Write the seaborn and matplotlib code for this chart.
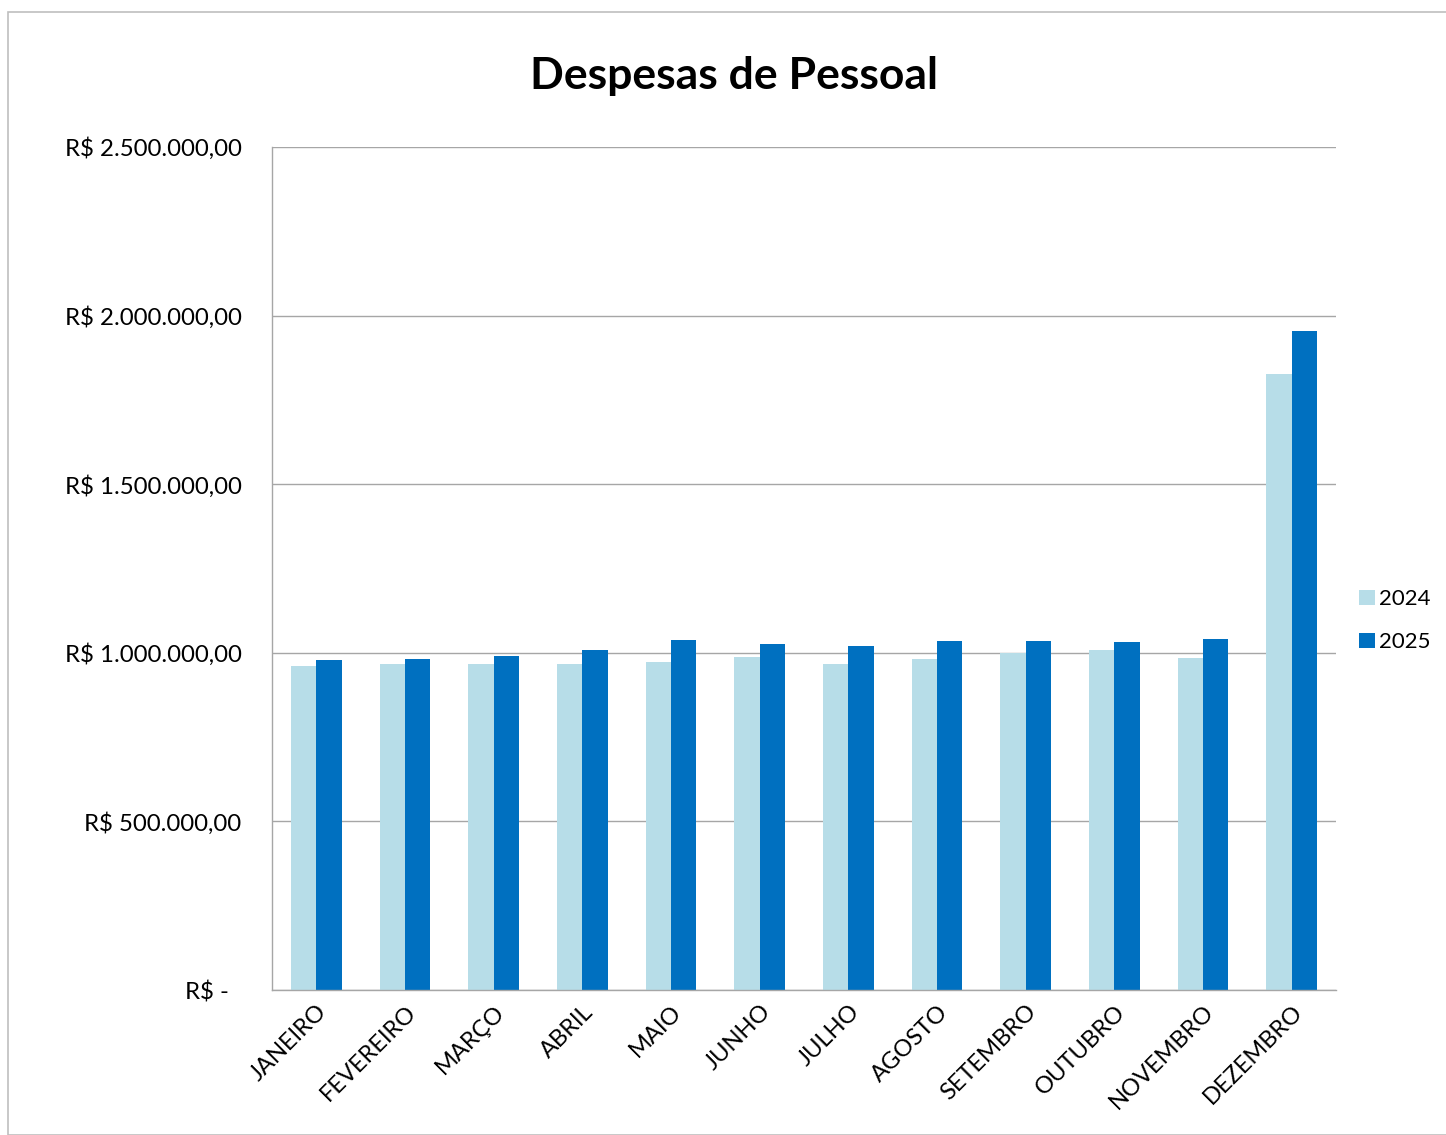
import matplotlib
matplotlib.use("Agg")
import matplotlib.pyplot as plt
import matplotlib.ticker as mticker
from matplotlib.patches import Rectangle
import seaborn as sns
import pandas as pd

months = ["JANEIRO", "FEVEREIRO", "MARÇO", "ABRIL", "MAIO", "JUNHO", "JULHO",
          "AGOSTO", "SETEMBRO", "OUTUBRO", "NOVEMBRO", "DEZEMBRO"]
vals_2024 = [961000, 967000, 967000, 968000, 974000, 988000, 967000,
             982000, 999000, 1007000, 985000, 1827000]
vals_2025 = [979000, 981000, 990000, 1007000, 1038000, 1025000, 1020000,
             1035000, 1034000, 1031000, 1040000, 1954000]
series = ["2024", "2025"]
colors = ["#B7DDE8", "#0070C0"]
yticks = [0, 500000, 1000000, 1500000, 2000000, 2500000]

df = pd.DataFrame({
    "mes": months * 2,
    "valor": vals_2024 + vals_2025,
    "ano": [series[0]] * 12 + [series[1]] * 12,
})

sns.set_theme(style="white")
plt.rcParams["font.family"] = ["Lato", "DejaVu Sans"]
plt.rcParams["text.color"] = "black"

fig = plt.figure(figsize=(14.46, 11.35), dpi=100)
ax = fig.add_axes([272 / 1446, 1 - 990 / 1135, (1336 - 272) / 1446, (990 - 147) / 1135])

sns.barplot(data=df, x="mes", y="valor", hue="ano", palette=colors,
            width=0.575, gap=0, saturation=1, ax=ax, legend=True, linewidth=0)

ax.set_ylim(0, 2500000)
ax.set_xlim(-0.5, 11.5)
ax.set_yticks(yticks)


def fmt(v, pos):
    if v == 0:
        return "R$ -  "
    s = f"{int(v):,}".replace(",", ".")
    return f"R$ {s},00"


ax.yaxis.set_major_formatter(mticker.FuncFormatter(fmt))
ax.yaxis.grid(True, color="#A6A6A6", linewidth=1)
ax.set_axisbelow(True)
for s in ["top", "right"]:
    ax.spines[s].set_visible(False)
for s in ["left", "bottom"]:
    ax.spines[s].set_color("#A6A6A6")
    ax.spines[s].set_linewidth(1)
ax.tick_params(axis="y", length=0, pad=22, labelsize=17.3, labelcolor="black")
ax.tick_params(axis="x", length=0, pad=8, labelsize=17, labelcolor="black")
ax.set_xlabel("")
ax.set_ylabel("")
for lab in ax.get_xticklabels():
    lab.set_rotation(45)
    lab.set_ha("right")
    lab.set_rotation_mode("anchor")

leg = ax.legend(loc="center left", bbox_to_anchor=(1.003, 0.438), frameon=False,
                fontsize=16, handlelength=0.7, handleheight=0.7,
                handletextpad=0.2, labelspacing=1.05)
for t in leg.get_texts():
    t.set_color("black")

fig.suptitle("Despesas de Pessoal", x=734 / 1446, y=1 - 76 / 1135, va="center",
             fontsize=32, fontweight="bold", color="black")

fig.patches.append(Rectangle((8 / 1446, 0), 1.0, 1 - 12 / 1135, transform=fig.transFigure,
                             fill=False, edgecolor="#BFBFBF", linewidth=1.2))

fig.savefig("out.png", dpi=100)
